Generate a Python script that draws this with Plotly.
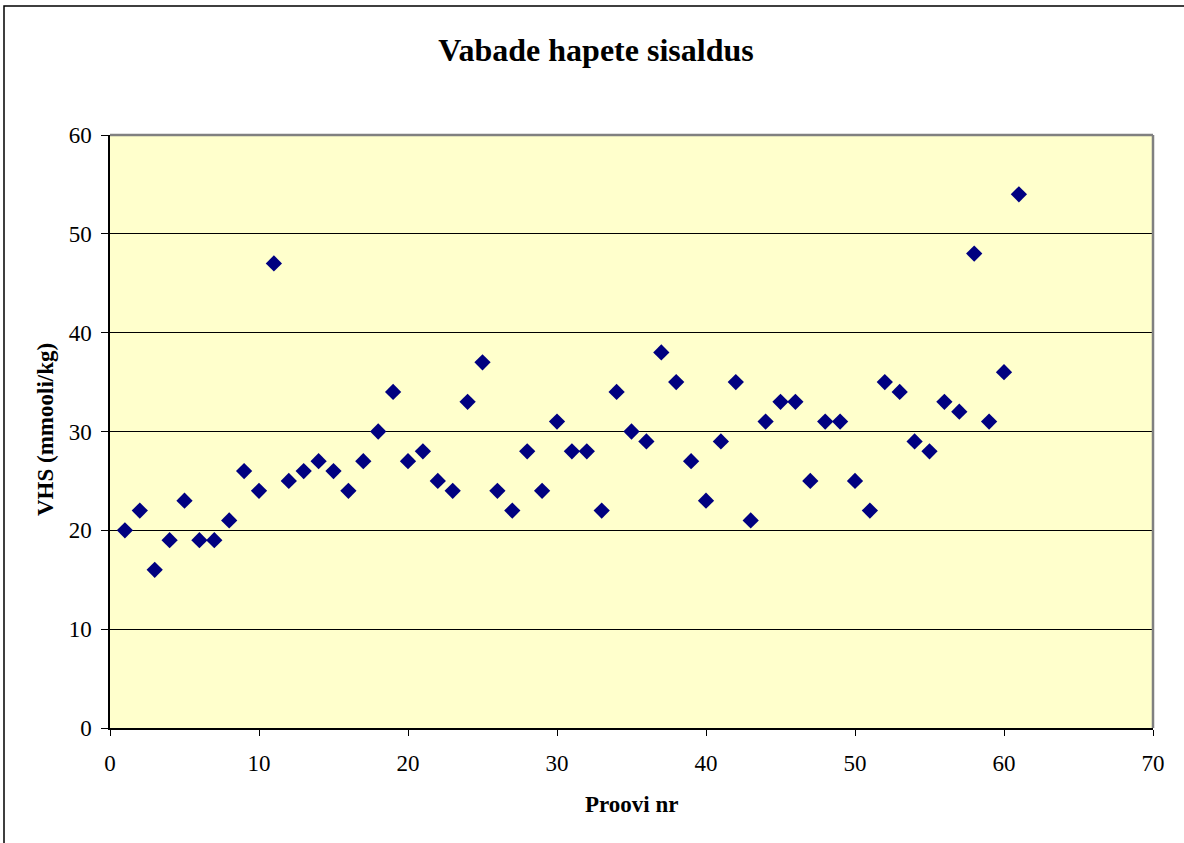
import plotly.graph_objects as go

sample_nr = list(range(1, 62))
vhs = [20, 22, 16, 19, 23, 19, 19, 21, 26, 24,
       47, 25, 26, 27, 26, 24, 27, 30, 34, 27,
       28, 25, 24, 33, 37, 24, 22, 28, 24, 31,
       28, 28, 22, 34, 30, 29, 38, 35, 27, 23,
       29, 35, 21, 31, 33, 33, 25, 31, 31, 25,
       22, 35, 34, 29, 28, 33, 32, 48, 31, 36,
       54]

title_text = "Vabade hapete sisaldus"
x_title = "Proovi nr"
y_title = "VHS (mmooli/kg)"

W, H = 1184, 843
L, R, T, B = 110, 31, 135, 115
pw, ph = W - L - R, H - T - B

font = "Liberation Serif, Times New Roman, serif"

fig = go.Figure()
fig.add_trace(go.Scatter(
    x=sample_nr, y=vhs, mode="markers",
    marker=dict(symbol="diamond", size=12.5, color="#000080",
                line=dict(width=0)),
    showlegend=False,
))

def px_x(p):
    return (p - L) / pw

def px_y(p):
    return (H - B - p) / ph

fig.update_layout(
    width=W, height=H,
    margin=dict(l=L, r=R, t=T, b=B),
    paper_bgcolor="white",
    plot_bgcolor="#FFFFCC",
    font=dict(family=font, size=23, color="black"),
    title=dict(text="<b>" + title_text + "</b>", x=596 / W, xref="container",
               xanchor="center", y=1 - 50 / H, yref="container", yanchor="middle",
               font=dict(family=font, size=32, color="black")),
    xaxis=dict(range=[0, 70], tickvals=list(range(0, 71, 10)),
               showgrid=False, zeroline=False,
               showline=True, linecolor="black", linewidth=1.5,
               ticks="outside", ticklen=6, tickcolor="black", tickwidth=1,
               ticklabelstandoff=8,
               tickfont=dict(family=font, size=23), mirror=False),
    yaxis=dict(range=[0, 60], tickvals=list(range(0, 61, 10)),
               showgrid=True, gridcolor="black", gridwidth=1,
               zeroline=False,
               showline=True, linecolor="black", linewidth=1.5,
               ticks="outside", ticklen=7, tickcolor="black", tickwidth=1,
               ticklabelstandoff=5,
               tickfont=dict(family=font, size=23)),
    shapes=[
        dict(type="line", xref="paper", yref="paper", x0=0, x1=1, y0=1, y1=1,
             line=dict(color="#808080", width=2.5)),
        dict(type="line", xref="paper", yref="paper", x0=1, x1=1, y0=0, y1=1,
             line=dict(color="#808080", width=2.5)),
        dict(type="rect", xref="paper", yref="paper",
             x0=px_x(4), x1=px_x(1195), y0=px_y(855), y1=px_y(6),
             line=dict(color="black", width=1.5), layer="below"),
    ],
    annotations=[
        dict(text="<b>" + x_title + "</b>", xref="paper", yref="paper",
             x=px_x(631), y=px_y(804), xanchor="center", yanchor="middle",
             showarrow=False, font=dict(family=font, size=23)),
        dict(text="<b>" + y_title + "</b>", xref="paper", yref="paper",
             x=px_x(45), y=px_y(430), xanchor="center", yanchor="middle",
             textangle=-90, showarrow=False, font=dict(family=font, size=23)),
    ],
)

fig.write_html("out.html", config={"displayModeBar": False},
               post_script="document.body.style.margin='0px';")
